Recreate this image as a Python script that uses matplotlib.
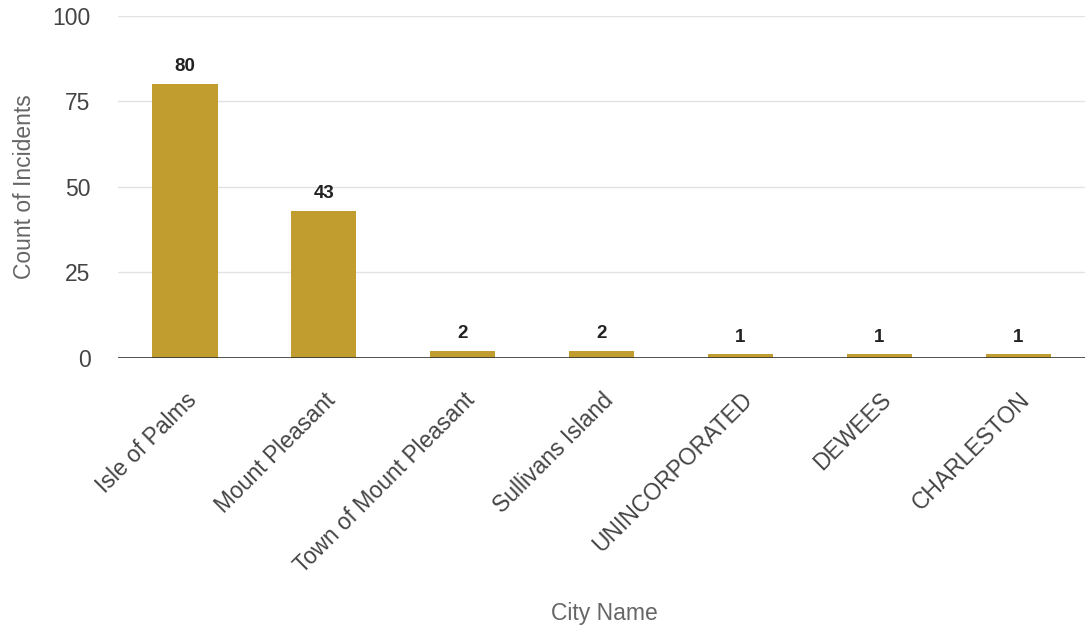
import matplotlib.pyplot as plt

cities = ["Isle of Palms", "Mount Pleasant", "Town of Mount Pleasant",
          "Sullivans Island", "UNINCORPORATED", "DEWEES", "CHARLESTON"]
counts = [80, 43, 2, 2, 1, 1, 1]
y_ticks = [0, 25, 50, 75, 100]

plt.rcParams['font.family'] = ['Liberation Sans', 'DejaVu Sans']

fig = plt.figure(figsize=(10.85, 6.29), dpi=100)
ax = fig.add_axes([0.109, 0.431, 0.891, 0.544])

x = range(len(cities))
bars = ax.bar(x, counts, width=0.47, color='#c19d30', zorder=2)
for b, v in zip(bars, counts):
    ax.text(b.get_x() + b.get_width() / 2, v + 2.6, str(v), ha='center', va='bottom',
            fontsize=13.5, fontweight='bold', color='#222222')

ax.set_ylim(0, 100)
ax.set_xlim(-0.48, 6.48)
ax.set_yticks(y_ticks)
ax.grid(axis='y', color='#e3e3e3', linewidth=1, zorder=0)
ax.axhline(0, color='#333333', linewidth=1.2, zorder=3)
for s in ax.spines.values():
    s.set_visible(False)
ax.tick_params(axis='both', length=0, labelsize=16.5, colors='#444444')
ax.tick_params(axis='y', pad=20)
ax.set_xticks(list(x))
ax.set_xticklabels(cities, rotation=45, ha='right', rotation_mode='anchor')
ax.tick_params(axis='x', pad=22)

ax.set_ylabel('Count of Incidents', fontsize=16.5, color='#666666', labelpad=12)
fig.text(0.557, 0.014, 'City Name', ha='center', fontsize=16.5, color='#666666')

fig.savefig('out.png', dpi=100)
